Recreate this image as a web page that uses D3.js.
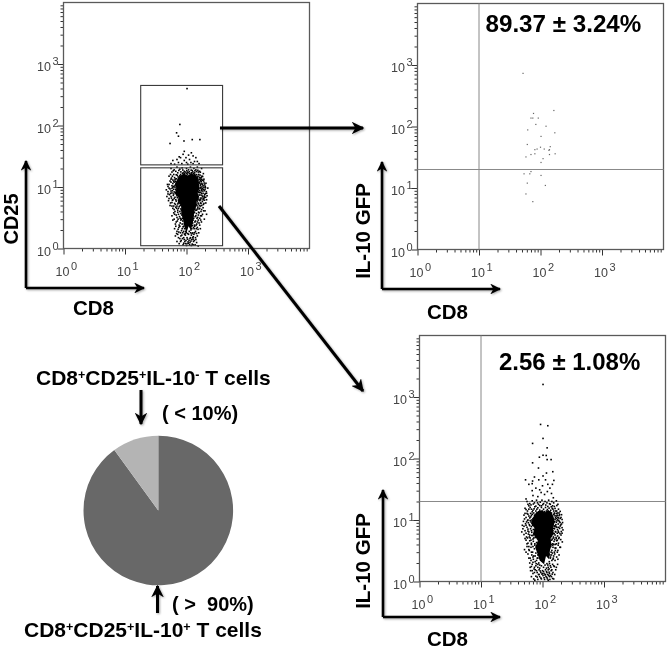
<!DOCTYPE html>
<html><head><meta charset="utf-8">
<script src="https://cdn.jsdelivr.net/npm/d3@7/dist/d3.min.js"></script>
<style>html,body{margin:0;background:#fff}svg{display:block}text{font-family:"Liberation Sans",Arial,sans-serif}</style>
</head><body><svg id="c" width="667" height="648"></svg>
<script>
// Values (CD8, second marker)
const decades=[1,10,100,1000];
const gateUpper=[18,386,22.9,448];
const gateLower=[18,386,1.11,20.5];
const quadrant=[10,20];
const pieShares=[90,10];
const pieShades=["#676767","#b4b4b4"];
const stats=["89.37 ± 3.24%","2.56 ± 1.08%"];

const coreA=[[76,15],[92,16.4],[106,15.4],[120,16.6],[138,15.6],[152,14],[158,11.4],[162,9.4],[152,8],[158,6.6],[146,5.8],[142,4.6],[134,4],[130,3.1],[126,2.5],[118,2],[108,2.3],[100,1.8],[92,2.3],[88,3],[82,3.9],[82,5],[72,5.6],[74,6.8],[65,7.8],[69,9.6],[64,11],[70,13]];
const coreC=[[80,13.5],[96,14.4],[110,13.4],[124,14.6],[140,13.2],[152,11.2],[156,8.8],[148,7.4],[150,6],[136,5],[140,3.9],[132,3.2],[128,2.3],[114,2.6],[106,1.9],[90,2.2],[82,2.9],[76,3.6],[84,4.6],[78,5.2],[70,6],[74,7.4],[65,8.8],[70,11]];

const eventsA=[[102,398],[78,104],[69,76],[74,67],[91,56],[124,59],[165,59],[54,51],
[108,33],[120,36],[88,34],[98,30],[128,32],[80,30],[112,28],[70,28],[142,30],[60,27],[92,27],[135,26],[74,25],[118,25],[100,25],[56,24],[150,26],[84,24],[128,24],[64,23.5],[105,23.5],[160,24],[92,38],[76,31],
[56,20],[63,19],[70,21],[78,19.5],[85,20.5],[92,18],[100,20],[108,19],[116,21],[124,18.5],[132,20],[142,19],[150,21],[163,18],[176,20],[58,17.5],[72,17],[88,17],[104,17.5],[120,17],[136,17],[156,17.5],
[52,15],[57,14],[62,16],[66,13.5],[71,15.5],[76,14],[80,16],[84,14.5],[90,15.8],[96,15],[103,16.2],[110,15.4],[118,16],[126,15.2],[134,16],[142,15],[150,14.5],[158,16],[168,14],[178,15],[188,16.5],[60,13],[74,13],[146,13],[172,13],
[49,11],[54,12.5],[58,10.5],[63,12],[67,11],[72,12.6],[76,10.5],[81,12],[150,12.5],[156,11],[162,12],[168,10.5],[174,12.2],[182,11],[190,12.5],[198,10.8],[61,10.2],[70,10],[178,10],[207,11.5],
[47,9],[52,9.6],[56,8.6],[60,9.9],[63,8.3],[67,9.2],[72,8.4],[166,9.5],[176,9.2],[184,8.6],[192,9.9],[200,9.1],[210,8.4],[222,9.6],[58,8],[50,7.7],
[48,7],[53,7.5],[57,6.6],[61,7.3],[65,6.8],[69,7.6],[74,7],[78,6.4],[160,7.4],[168,6.6],[175,7.8],[183,7],[190,6.5],[198,7.5],[205,6.8],[216,7.2],[152,6.2],
[51,6],[55,5.5],[60,6.2],[64,5.4],[68,5.9],[72,5.3],[77,5.7],[82,5.1],[150,5.9],[157,5.3],[165,6],[172,5.4],[181,5.8],[188,5.2],[196,6.1],[206,5.5],[145,5.2],
[58,4.9],[63,4.3],[67,4.7],[72,4.2],[76,4.8],[81,4.4],[85,4.8],[140,4.9],[146,4.2],[153,4.7],[160,4.4],[168,4.9],[176,4.3],[186,4.6],[200,4.1],
[62,3.8],[68,3.5],[72,3.9],[77,3.3],[81,3.7],[86,3.1],[132,3.8],[138,3.3],[145,3.7],[152,3.2],[160,3.8],[170,3.4],[182,3.6],[212,3.6],[195,3],
[60,2.9],[66,2.5],[71,2.8],[76,2.4],[81,2.9],[85,2.5],[90,2.3],[128,2.9],[134,2.4],[140,2.8],[147,2.5],[155,2.9],[164,2.4],[175,2.7],
[64,2.1],[70,1.9],[75,2.2],[80,1.8],[85,2.1],[90,1.9],[95,1.75],[122,2.1],[127,1.8],[133,2.1],[140,1.9],[150,2.2],[158,1.8],
[66,1.6],[72,1.7],[78,1.45],[84,1.65],[90,1.5],[96,1.65],[102,1.5],[108,1.7],[114,1.45],[120,1.65],[126,1.5],[132,1.7],[140,1.5],[150,1.6],
[70,1.3],[76,1.2],[82,1.35],[88,1.15],[94,1.3],[100,1.12],[106,1.28],[112,1.15],[118,1.32],[124,1.18],[130,1.3],[138,1.15],[146,1.25],[155,1.1],
[61,18.4],[67,18],[75,18.6],[81,17.6],[87,18.9],[95,17.5],[101,18.4],[111,17.7],[119,18.8],[127,17.6],[137,18.3],[146,17.8],[153,18.7],[168,17.4],
[55,16],[59,15],[64,14.2],[68,15.8],[73,14.6],[78,15.2],[82,14.9],[86,16.4],[92,16.6],[99,16.8],[106,17],[113,16.5],[122,16.9],[130,16.6],[138,15.6],[146,15.9],[154,15],[162,14.4],[166,15.6],[174,14.3],[183,14.8],
[56,13.4],[62,12.4],[65,13],[69,13.6],[72,11.4],[77,12],[79,13.3],[84,13],[152,13.7],[158,13],[164,13.4],[170,12.6],[176,13.4],[184,12.9],[192,13.4],[148,14.2],[140,14.8],
[52,11],[56,12],[60,11.4],[64,10.4],[67,12.2],[70,11.6],[74,10.2],[155,10.2],[158,12],[165,11.4],[171,11],[178,11.4],[186,10.5],[194,11.6],[202,10.2],[153,11.5],
[50,10.2],[54,9.3],[58,9.5],[62,9.2],[65,9.9],[68,8.7],[70,9.5],[74,9.2],[158,9.8],[162,8.8],[170,9.8],[174,8.7],[180,9.4],[188,9.2],[195,8.7],[204,9.7],[156,8.3],[160,8.2],
[50,8.4],[55,7.9],[59,8.7],[62,7.7],[66,8.1],[70,7.2],[73,7.9],[76,7.3],[80,7.5],[150,7.6],[155,7],[161,8.1],[166,7.4],[171,8.2],[178,7.3],[186,7.9],[194,7.1],[202,7.8],[212,7.9],
[52,6.5],[56,7],[59,6.1],[63,6.5],[67,6.2],[71,6.7],[74,6.1],[80,6.2],[84,5.7],[146,6.9],[154,6.6],[160,6.2],[170,6.2],[178,6.6],[186,6.2],[194,6.7],[212,6.2],
[54,5],[58,5.6],[62,4.9],[66,5.2],[70,4.9],[74,5.5],[79,5],[85,5.4],[142,5.5],[148,5],[154,5.5],[162,5],[169,5.5],[177,5],[192,5.4],
[60,4.5],[65,4],[69,4.5],[74,4.5],[78,4],[83,4.2],[87,4.4],[136,4.4],[142,4.2],[150,4.4],[157,3.9],[164,4.5],[172,4],[190,4.1],
[58,3.4],[64,3.6],[70,3.2],[74,3.6],[79,3.1],[84,3.5],[88,3.3],[92,3],[128,3.4],[135,3.9],[142,3.4],[148,3.1],[156,3.5],[164,3.1],[176,3.4],
[63,3],[68,2.7],[73,3],[79,2.6],[83,3],[87,2.8],[92,2.5],[126,2.6],[131,3.1],[137,2.7],[143,2.4],[151,2.7],[160,2.6],[170,2.9],
[67,2.3],[73,2.05],[78,2.3],[83,1.95],[88,2.25],[93,2.1],[97,1.9],[118,2],[124,2.35],[130,2.2],[136,2.3],[144,2.1],[154,2.05],[168,2.1],
[69,1.75],[75,1.85],[81,1.6],[87,1.8],[93,1.7],[99,1.8],[105,1.75],[111,1.9],[117,1.8],[123,1.75],[129,1.55],[136,1.8],[146,1.75],
[74,1.5],[80,1.3],[86,1.45],[92,1.4],[98,1.35],[104,1.42],[110,1.35],[116,1.5],[122,1.4],[128,1.42],[134,1.35],[142,1.4],
[90,1.22],[96,1.2],[102,1.2],[108,1.22],[114,1.25],[120,1.12],[128,1.15]];

const eventsB=[[52,731],[165,182],[77,163],[70,137],[75,137],[92,137],[84,108],[123,101],[62,88],[171,79],[102,69],[61,51],[100,46],[144,47],[81,42],[88,43],[115,43],[140,42],[137,41],[70,35],[81,36],[58,32],[140,35],[173,36],[110,30],[102,26],[70,18.5],[67,17],[54,17],[102,16],[61,12],[120,11],[58,8],[75,6]];

const eventsC=[[102,1600],[93,358],[122,341],[102,212],[69,176],[119,149],[69,85],[89,105],[102,113],[115,112],[119,96],[138,96],[86,70],[116,58],[147,61],[102,52],[53,45],[69,43],[68,39],[87,45],[153,44],[122,38],[60,38],[78,33],[132,33],[95,28],[108,26],[68,30],[84,24],[120,29],[54,22],[150,23],[70,25],[90,31],[140,27],[100,36],[112,45],[74,50],[145,38],
[56,20],[62,18.5],[68,20.5],[74,19],[80,21],[86,18],[92,19.5],[98,21],[104,18.5],[110,20],[118,19],[126,21],[134,18],[142,20],[152,19],[168,20.5],[178,18],[60,17],[78,16.8],[96,17],[122,16.6],[146,17],
[52,15.5],[57,14],[63,16],[68,13.6],[73,15.2],[78,14],[84,15.8],[90,14.5],[96,16],[104,15],[112,16],[120,14.8],[128,15.6],[136,14.4],[144,15.5],[152,14],[160,15.4],[170,14],[182,15],[194,13.8],[64,12.8],[168,12.8],
[50,12],[54,11],[58,12.4],[62,10.8],[66,11.8],[70,10.5],[74,12],[160,11.7],[167,10.6],[174,12],[182,10.8],[190,12.2],[200,11],[208,10.2],[58,10],
[49,9.5],[53,8.7],[57,9.8],[61,8.4],[65,9.3],[69,8.2],[158,9.5],[165,8.4],[172,9.7],[180,8.6],[188,9.4],[198,8.3],[212,9.1],[50,7.9],
[48,7.2],[52,6.7],[56,7.6],[60,6.4],[64,7.2],[67,6.3],[72,5.9],[157,7.2],[164,6.4],[172,7.6],[180,6.6],[190,7.3],[202,6.5],[215,6.9],[150,6.1],
[50,5.8],[55,5.3],[59,5.9],[63,5.1],[67,5.6],[72,5.1],[77,5.5],[146,5.8],[152,5.1],[160,5.7],[168,5],[176,5.5],[186,5.2],[200,5.7],
[54,4.7],[58,4.2],[62,4.6],[66,4],[71,4.5],[75,3.9],[80,4.3],[141,4.7],[147,4.1],[154,4.5],[162,4],[170,4.6],[182,4.2],[210,4.4],
[51,3.3],[56,3.7],[61,3.2],[65,3.6],[69,3],[74,3.4],[136,3.7],[142,3.2],[148,3.6],[156,3],[165,3.5],[178,3.2],[192,3.6],
[58,2.8],[63,2.4],[67,2.7],[71,2.3],[76,2.6],[80,2.2],[84,2.7],[128,2.8],[134,2.4],[140,2.7],[148,2.3],[158,2.8],[170,2.5],[186,2.7],
[62,2],[66,1.75],[70,2.05],[74,1.7],[79,1.95],[84,1.7],[90,1.85],[118,1.95],[124,1.7],[130,1.95],[137,1.7],[146,1.9],[156,1.75],[176,1.9],
[64,1.5],[70,1.35],[76,1.55],[82,1.4],[88,1.55],[94,1.4],[100,1.5],[106,1.35],[112,1.55],[118,1.4],[124,1.55],[130,1.35],[138,1.5],[148,1.4],[164,1.55],
[66,1.2],[72,1.1],[78,1.22],[84,1.08],[90,1.2],[96,1.1],[102,1.25],[108,1.08],[114,1.2],[120,1.1],[126,1.25],[132,1.08],[140,1.2],[152,1.1],
[58,18],[65,17.6],[71,18.2],[83,19],[90,17.2],[101,17.8],[113,17.5],[130,18.4],[139,16.4],[156,16.6],[171,17.2],
[54,14.8],[60,15],[66,15],[70,14.4],[75,16.4],[81,15],[87,13.6],[93,13.6],[100,14],[108,13.7],[116,14],[124,13.8],[132,13.6],[140,13],[148,15],[156,13],[164,14],[176,13],[186,13],
[52,12.8],[56,12.8],[60,11.6],[64,11.2],[68,12.4],[72,13],[77,11.8],[80,12.8],[152,12.2],[156,12.6],[163,11],[170,11.6],[178,11],[186,11.8],[194,10.6],[204,12.2],[151,10.4],
[51,10.4],[55,9.3],[59,9],[63,9.8],[67,10],[72,9.6],[154,9.2],[160,10.2],[168,9.2],[176,10.2],[184,9.8],[193,9.1],[204,8.6],[155,8],[162,8],
[47,8.2],[54,8.2],[58,7.1],[62,8.1],[66,7.8],[71,7],[76,6.9],[152,7.3],[157,7.8],[167,7.7],[175,7],[184,7.6],[194,8],[208,7.5],[148,6.7],
[46,6.4],[54,6.1],[58,6.6],[62,5.7],[66,6.7],[70,5.6],[75,6.3],[81,6],[144,6.4],[155,6],[162,6.5],[174,6.1],[183,6.3],[192,6],[208,6.1],
[52,5],[57,5.1],[61,5.3],[65,4.7],[70,4.9],[76,5.2],[83,5],[88,4.9],[138,5.4],[144,4.9],[150,5.3],[158,4.8],[166,5.2],[174,4.7],[184,5],[198,4.8],
[56,4.1],[60,3.7],[66,4.2],[70,3.7],[75,4.1],[80,3.7],[84,4.1],[130,4.2],[138,4],[146,3.9],[153,4],[160,3.5],[168,4.1],[180,3.9],[196,3.6],
[54,3],[60,3.3],[66,3],[72,2.6],[78,2.9],[84,2.4],[89,2.9],[126,3.2],[132,2.7],[138,3],[145,2.9],[152,2.6],[162,3.2],[174,3],
[60,2.4],[65,2.2],[70,2.5],[76,2.1],[82,2.4],[87,2],[124,2.6],[129,2.1],[135,2.5],[142,2.2],[150,2.4],[160,2.2],[178,2.3],
[63,1.7],[68,1.9],[73,1.6],[78,1.8],[84,1.9],[90,1.65],[96,1.8],[104,1.7],[110,1.85],[116,1.65],[122,1.85],[128,1.6],[134,1.8],[142,1.55],[152,1.8],[168,1.7],
[68,1.5],[74,1.4],[80,1.5],[86,1.3],[92,1.48],[98,1.32],[104,1.45],[110,1.28],[116,1.45],[122,1.3],[128,1.42],[135,1.25],[144,1.32],[158,1.3],
[75,1.05],[82,1.18],[88,1.3],[94,1.14],[100,1.35],[106,1.15],[112,1.3],[118,1.16],[124,1.05],[130,1.2],[146,1.12]];

const svg=d3.select("#c");
const defs=svg.append("defs");
defs.append("filter").attr("id","soft").attr("x","-5%").attr("y","-5%").attr("width","110%").attr("height","110%")
  .append("feGaussianBlur").attr("stdDeviation",0.4);
const mk=defs.append("marker").attr("id","head").attr("viewBox","0 0 10 10").attr("refX",9).attr("refY",5)
  .attr("markerWidth",4.2).attr("markerHeight",4.2).attr("orient","auto-start-reverse");
mk.append("path").attr("d","M0,0L10,5L0,10L3,5Z").attr("fill","#000");
const root=svg.append("g").attr("filter","url(#soft)");

function panel(o){
  const size=246;
  const x=d3.scaleLog().domain([1,10000]).range([o.x,o.x+size]);
  const y=d3.scaleLog().domain([1,10000]).range([o.y+size,o.y]);
  const g=root.append("g");
  const minor=[];decades.forEach(d=>d3.range(2,10).forEach(m=>minor.push(d*m)));
  const all=[...decades,...minor];
  const axB=g.append("g").attr("transform",`translate(0,${o.y+size})`).call(d3.axisBottom(x).tickValues(all).tickFormat("").tickSize(3).tickSizeOuter(0));
  const axL=g.append("g").attr("transform",`translate(${o.x},0)`).call(d3.axisLeft(y).tickValues(all).tickFormat("").tickSize(3).tickSizeOuter(0));
  [axB,axL].forEach(a=>{a.selectAll(".domain").remove();a.selectAll(".tick line").attr("stroke","#333");});
  axB.selectAll(".tick line").filter(d=>decades.includes(d)).attr("y2",6);
  axL.selectAll(".tick line").filter(d=>decades.includes(d)).attr("x2",-6);
  g.append("rect").attr("x",o.x).attr("y",o.y).attr("width",size).attr("height",size).attr("fill","none").attr("stroke","#5a5a5a").attr("stroke-width",1.3);
  const exp=d=>Math.round(Math.log10(d));
  decades.forEach(d=>{
    const tx=g.append("text").attr("x",x(d)-8).attr("y",o.y+size+27).attr("fill","#444").attr("font-size",12.5).text("10");
    tx.append("tspan").attr("dy",-6).attr("dx",1.5).attr("font-size",11).text(exp(d));
    const ty=g.append("text").attr("x",o.x-26.5).attr("y",y(d)+7).attr("fill","#444").attr("font-size",12.5).text("10");
    ty.append("tspan").attr("dy",-6).attr("dx",1.5).attr("font-size",11).text(exp(d));
  });
  const blob=d3.line().x(d=>x(d[0])).y(d=>y(d[1])).curve(d3.curveLinearClosed);
  if(o.core) g.append("path").attr("d",blob(o.core)).attr("fill","#000");
  if(o.quad){
    g.append("line").attr("x1",x(o.quad[0])).attr("x2",x(o.quad[0])).attr("y1",o.y).attr("y2",o.y+size).attr("stroke","#888").attr("stroke-width",1);
    g.append("line").attr("y1",y(o.quad[1])).attr("y2",y(o.quad[1])).attr("x1",o.x).attr("x2",o.x+size).attr("stroke","#888").attr("stroke-width",1);
  }
  g.selectAll("rect.ev").data(o.events).join("rect").attr("class","ev")
    .attr("x",d=>x(d[0])-o.dot/2).attr("y",d=>y(d[1])-o.dot/2).attr("width",o.dot).attr("height",o.dot).attr("fill",o.dotColor);
  (o.gates||[]).forEach(b=>{
    g.append("rect").attr("x",x(b[0])).attr("y",y(b[3])).attr("width",x(b[1])-x(b[0])).attr("height",y(b[2])-y(b[3]))
      .attr("fill","none").attr("stroke","#3a3a3a").attr("stroke-width",1.1);
  });
}
panel({x:63.5,y:2.5,events:eventsA,core:coreA,gates:[gateUpper,gateLower],dot:1.6,dotColor:"#000"});
panel({x:417.5,y:3.5,events:eventsB,quad:quadrant,dot:1.2,dotColor:"#666"});
panel({x:419.5,y:335.5,events:eventsC,core:coreC,quad:quadrant,dot:1.6,dotColor:"#000"});

const arrows=root.append("g").attr("fill","none").attr("stroke","#000").attr("stroke-linecap","butt")
  .style("filter","drop-shadow(1px 1px 1px rgba(0,0,0,.35))");
function arrow(x1,y1,x2,y2,w){arrows.append("line").attr("x1",x1).attr("y1",y1).attr("x2",x2).attr("y2",y2).attr("stroke-width",w).attr("marker-end","url(#head)");}
[[26,288,26,161],[26,288,144,288],[382,289,382,162],[382,289,500,289],[383,617,383,490],[383,617,500,617]].forEach(a=>arrow(...a,2.6));
arrow(220,128,363,128,3);
arrow(219,206,363,391,3);
arrow(141,390,141,424,3);
arrow(157.5,613,157.5,586,3);

const lab=root.append("g").attr("fill","#000").attr("font-weight","bold");
function t(x,y,s,size,rot){const e=lab.append("text").attr("font-size",size).text(s);
  if(rot) e.attr("transform",`translate(${x},${y}) rotate(-90)`).attr("text-anchor","middle"); else e.attr("x",x).attr("y",y);return e;}
t(18,219,"CD25",20,true);
t(73,315,"CD8",20.5);
t(370,231,"IL-10 GFP",20.5,true);
t(427,319,"CD8",20.5);
t(370,561,"IL-10 GFP",20.5,true);
t(427,645.5,"CD8",20.5);
t(485.5,32,stats[0],24.2);
t(499,370,stats[1],24);
t(162,420,"( < 10%)",20);
t(172,611,"( >\u00a0\u00a090%)",20);
function cells(x,y,last){
  const e=lab.append("text").attr("x",x).attr("y",y).attr("font-size",21);
  [["CD8",0],["+",1],["CD25",0],["+",1],["IL-10",0],[last,1],[" T cells",0]].forEach(([s,up])=>{
    e.append("tspan").attr("font-size",up?12.5:21).attr("dy",up?-6.5:(s==="CD8"?0:6.5)).text(s);
  });
}
cells(36,385,"-");
cells(24,637,"+");

const pieG=root.append("g").attr("transform","translate(158.3,510.5)");
pieG.selectAll("path").data(d3.pie().sort(null)(pieShares)).join("path")
  .attr("d",d3.arc().innerRadius(0).outerRadius(74.8)).attr("fill",(d,i)=>pieShades[i]);
</script></body></html>
